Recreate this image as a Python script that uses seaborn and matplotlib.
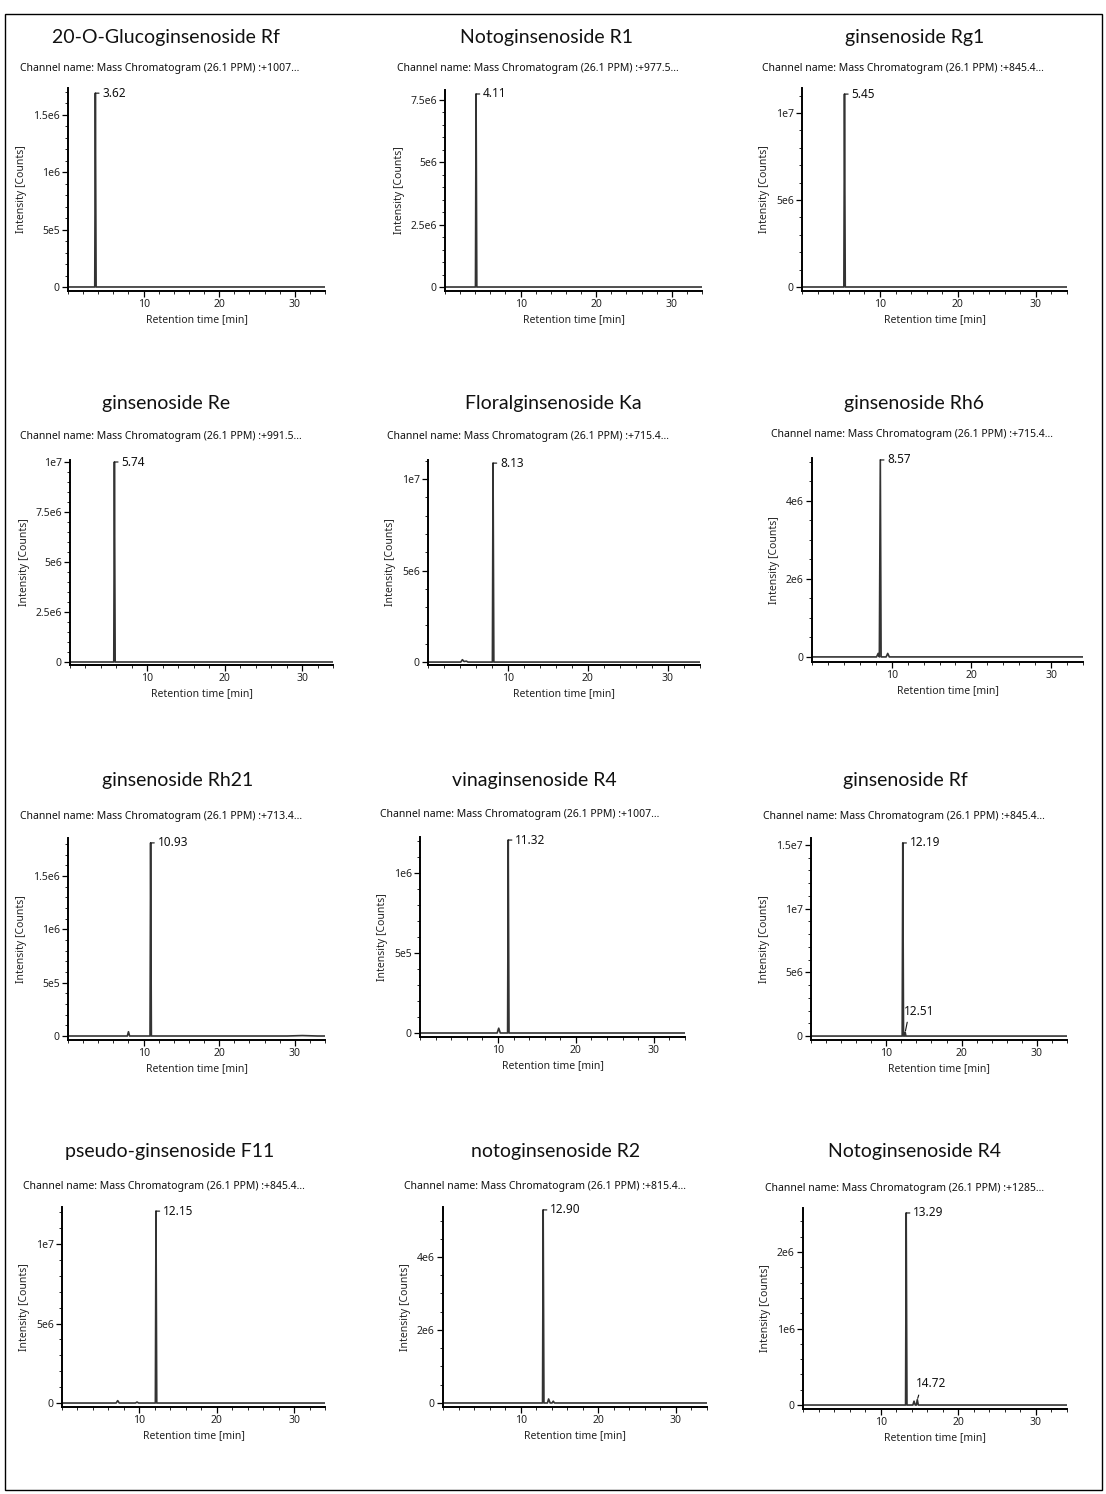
import matplotlib
matplotlib.use("Agg")
import matplotlib.pyplot as plt
from matplotlib.ticker import FixedLocator, AutoMinorLocator
from matplotlib.patches import Rectangle
import seaborn as sns
import pandas as pd

sns.set_style("ticks")
plt.rcParams['font.family'] = ['Noto Sans', 'DejaVu Sans']

# ---------------- data ----------------
titles = ["20-O-Glucoginsenoside Rf", "Notoginsenoside R1", "ginsenoside Rg1",
          "ginsenoside Re", "Floralginsenoside Ka", "ginsenoside Rh6",
          "ginsenoside Rh21", "vinaginsenoside R4", "ginsenoside Rf",
          "pseudo-ginsenoside F11", "notoginsenoside R2", "Notoginsenoside R4"]

channels = ["+1007...", "+977.5...", "+845.4...",
            "+991.5...", "+715.4...", "+715.4...",
            "+713.4...", "+1007...", "+845.4...",
            "+845.4...", "+815.4...", "+1285..."]

rt_1 = [0, 3.54, 3.62, 3.72, 34]
int_1 = [0, 0, 1.69e6, 0, 0]
rt_2 = [0, 4.03, 4.11, 4.21, 34]
int_2 = [0, 0, 7.74e6, 0, 0]
rt_3 = [0, 5.37, 5.45, 5.55, 34]
int_3 = [0, 0, 1.109e7, 0, 0]
rt_4 = [0, 5.66, 5.74, 5.84, 34]
int_4 = [0, 0, 1.0e7, 0, 0]
rt_5 = [0, 4.1, 4.3, 4.5, 4.8, 5.0, 8.05, 8.13, 8.23, 34]
int_5 = [0, 0, 1.3e5, 3e4, 5e4, 0, 0, 1.087e7, 0, 0]
rt_6 = [0, 8.10, 8.30, 8.45, 8.57, 8.67, 9.30, 9.50, 9.70, 34]
int_6 = [0, 0, 9e4, 0, 5.05e6, 0, 0, 9e4, 0, 0]
rt_7 = [0, 7.85, 8.00, 8.15, 10.85, 10.93, 11.03, 29, 31, 33, 34]
int_7 = [0, 0, 4e4, 0, 0, 1.81e6, 0, 0, 4e3, 0, 0]
rt_8 = [0, 9.90, 10.10, 10.30, 11.24, 11.32, 11.42, 34]
int_8 = [0, 0, 3e4, 0, 0, 1.206e6, 0, 0]
rt_9 = [0, 12.11, 12.19, 12.29, 12.42, 12.51, 12.60, 34]
int_9 = [0, 0, 1.516e7, 0, 0, 3e5, 0, 0]
rt_10 = [0, 7.0, 7.2, 7.4, 9.5, 9.7, 9.9, 12.07, 12.15, 12.25, 34]
int_10 = [0, 0, 1.5e5, 0, 0, 6e4, 0, 0, 1.207e7, 0, 0]
rt_11 = [0, 12.82, 12.90, 13.00, 13.45, 13.60, 13.80, 14.05, 14.20, 14.35, 34]
int_11 = [0, 0, 5.29e6, 0, 0, 1.1e5, 0, 0, 5e4, 0, 0]
rt_12 = [0, 13.21, 13.29, 13.39, 14.15, 14.30, 14.45, 14.60, 14.72, 14.85, 34]
int_12 = [0, 0, 2.51e6, 0, 0, 5e4, 0, 0, 7e4, 0, 0]

rts = [rt_1, rt_2, rt_3, rt_4, rt_5, rt_6, rt_7, rt_8, rt_9, rt_10, rt_11, rt_12]
ints = [int_1, int_2, int_3, int_4, int_5, int_6, int_7, int_8, int_9, int_10, int_11, int_12]

peak_rt = [3.62, 4.11, 5.45, 5.74, 8.13, 8.57, 10.93, 11.32, 12.19, 12.15, 12.90, 13.29]
peak_int = [1.69e6, 7.74e6, 1.109e7, 1.0e7, 1.087e7, 5.05e6, 1.81e6, 1.206e6, 1.516e7, 1.207e7, 5.29e6, 2.51e6]
peak_labels = ["3.62", "4.11", "5.45", "5.74", "8.13", "8.57", "10.93", "11.32", "12.19", "12.15", "12.90", "13.29"]

# secondary labelled peaks: (panel index, rt, intensity, label, text x, text y)
minor_peaks = [(8, 12.51, 3e5, "12.51", 12.3, 1.45e6),
               (11, 14.72, 7e4, "14.72", 14.5, 1.9e5)]

yticks = [[0, 5e5, 1e6, 1.5e6], [0, 2.5e6, 5e6, 7.5e6], [0, 5e6, 1e7],
          [0, 2.5e6, 5e6, 7.5e6, 1e7], [0, 5e6, 1e7], [0, 2e6, 4e6],
          [0, 5e5, 1e6, 1.5e6], [0, 5e5, 1e6], [0, 5e6, 1e7, 1.5e7],
          [0, 5e6, 1e7], [0, 2e6, 4e6], [0, 1e6, 2e6]]
ytick_labels = [["0", "5e5", "1e6", "1.5e6"], ["0", "2.5e6", "5e6", "7.5e6"], ["0", "5e6", "1e7"],
                ["0", "2.5e6", "5e6", "7.5e6", "1e7"], ["0", "5e6", "1e7"], ["0", "2e6", "4e6"],
                ["0", "5e5", "1e6", "1.5e6"], ["0", "5e5", "1e6"], ["0", "5e6", "1e7", "1.5e7"],
                ["0", "5e6", "1e7"], ["0", "2e6", "4e6"], ["0", "1e6", "2e6"]]
ylims = [(-3.5e4, 1.735e6), (-1.6e5, 7.9e6), (-2.3e5, 1.144e7),
         (-1.5e5, 1.01e7), (-1.6e5, 1.104e7), (-1.3e5, 5.1e6),
         (-3.75e4, 1.856e6), (-2.5e4, 1.225e6), (-3.1e5, 1.555e7),
         (-2.5e5, 1.233e7), (-1.1e5, 5.37e6), (-5.2e4, 2.575e6)]
xticks = [10, 20, 30]

# ---------------- layout (pixels) ----------------
W, H = 1106, 1494
axes_px = [(68, 88, 325, 291), (445, 90, 702, 291), (802, 88, 1067, 291),
           (70, 460, 333, 665), (428, 460, 700, 665), (812, 458, 1083, 662),
           (68, 838, 325, 1040), (420, 837, 685, 1037), (811, 838, 1067, 1040),
           (62, 1207, 325, 1407), (443, 1207, 707, 1407), (803, 1208, 1067, 1409)]
title_pos = [(166, 38), (546, 38), (915, 38),
             (166, 403), (553, 403), (914, 403),
             (178, 780), (534, 780), (905, 780),
             (170, 1151), (556, 1151), (915, 1151)]
chan_pos = [(20, 68), (397, 68), (762, 68),
            (20, 436), (387, 436), (771, 434),
            (20, 817), (380, 815), (763, 817),
            (23, 1186), (404, 1186), (765, 1188)]

fig = plt.figure(figsize=(W / 100, H / 100), dpi=100)
fig.patches.append(Rectangle((5 / W, 1 - 1490 / H), 1097 / W, 1476 / H,
                             transform=fig.transFigure, fill=False,
                             edgecolor="black", lw=1.0))

line_col = "#333333"
for i in range(12):
    l, t, r, b = axes_px[i]
    ax = fig.add_axes([l / W, 1 - b / H, (r - l) / W, (b - t) / H])
    df = pd.DataFrame({"rt": rts[i], "intensity": ints[i]})
    sns.lineplot(data=df, x="rt", y="intensity", ax=ax, sort=False,
                 estimator=None, color=line_col, lw=1.2)
    ax.set_xlim(0, 34)
    ax.set_ylim(*ylims[i])
    ax.xaxis.set_major_locator(FixedLocator(xticks))
    ax.set_xticklabels([str(v) for v in xticks])
    ax.xaxis.set_minor_locator(AutoMinorLocator(5))
    ax.yaxis.set_major_locator(FixedLocator(yticks[i]))
    ax.set_yticklabels(ytick_labels[i])
    ax.yaxis.set_minor_locator(AutoMinorLocator())
    for s in ["top", "right"]:
        ax.spines[s].set_visible(False)
    for s in ["left", "bottom"]:
        ax.spines[s].set_linewidth(1.4)
        ax.spines[s].set_color("black")
    ax.tick_params(axis="both", which="major", direction="out", length=4,
                   width=0.9, labelsize=7.5, colors="black", labelcolor="#222222", pad=2)
    ax.tick_params(axis="both", which="minor", direction="out", length=2.5, width=0.7)
    ax.set_xlabel("Retention time [min]", fontsize=7.5, color="#222222", labelpad=3)
    ax.set_ylabel("Intensity [Counts]", fontsize=7.5, color="#222222", labelpad=4)
    ax.set_facecolor("white")

    ax.annotate(peak_labels[i], xy=(peak_rt[i], peak_int[i]), xytext=(5, 0),
                textcoords="offset points", va="center", ha="left", fontsize=8.5,
                color="#111111",
                arrowprops=dict(arrowstyle="-", lw=0.8, color="#111111",
                                shrinkA=0, shrinkB=0))
    for (pi, mrt, mint, mlab, tx, ty) in minor_peaks:
        if pi == i:
            ax.annotate(mlab, xy=(mrt, mint), xytext=(tx, ty), textcoords="data",
                        ha="left", va="bottom", fontsize=8.5, color="#111111",
                        arrowprops=dict(arrowstyle="-", lw=0.8, color="#111111",
                                        shrinkA=1, shrinkB=1,
                                        relpos=(0.15, 0.0)))

    tx, ty = title_pos[i]
    fig.text(tx / W, 1 - ty / H, titles[i], ha="center", va="center",
             fontsize=14, family=["Lato", "DejaVu Sans"], color="#111111")
    cx, cy = chan_pos[i]
    fig.text(cx / W, 1 - cy / H,
             "Channel name: Mass Chromatogram (26.1 PPM) :" + channels[i],
             ha="left", va="center", fontsize=7.5, color="#111111")

fig.savefig("out.png", dpi=100, facecolor="white")
